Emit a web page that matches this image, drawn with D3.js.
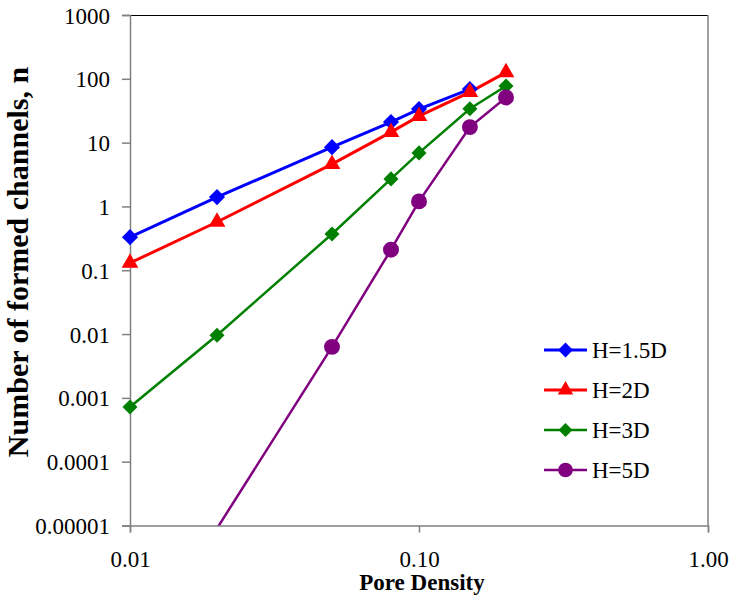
<!DOCTYPE html>
<html>
<head>
<meta charset="utf-8">
<script src="https://cdn.jsdelivr.net/npm/d3@7"></script>
<style>
  body { margin: 0; background: #fff; }
</style>
</head>
<body>
<svg id="chart" width="736" height="603"></svg>
<script>
const poreDensity = [0.01, 0.02, 0.05, 0.08, 0.10, 0.15, 0.20];

// values per series, null where there is no point
const h15 = [0.33, 1.4, 8.5, 21, 33.5, 69, null];
const h2 = [0.13, 0.57, 4.6, 14.6, 26, 62, 126];
const h3 = [0.00072, 0.0096, 0.37, 2.7, 6.9, 34, 77];
const h5 = [null, 0.000009, 0.0063, 0.21, 1.2, 17.5, 51];

const seriesNames = ['H=1.5D', 'H=2D', 'H=3D', 'H=5D'];
const seriesColors = ['#0000ff', '#ff0000', '#008000', '#800080'];
const seriesSymbols = ['diamond', 'triangle', 'diamond', 'circle'];

const yTicks = [1000, 100, 10, 1, 0.1, 0.01, 0.001, 0.0001, 0.00001];
const yTickLabels = ['1000', '100', '10', '1', '0.1', '0.01', '0.001', '0.0001', '0.00001'];
const xTicks = [0.01, 0.1, 1];
const xTickLabels = ['0.01', '0.10', '1.00'];

const serif = '"Liberation Serif", "Times New Roman", "DejaVu Serif", serif';

const svg = d3.select('#chart');
const plotLeft = 130, plotRight = 708, plotTop = 15, plotBottom = 525.5;

const x = d3.scaleLog().domain([0.01, 1]).range([plotLeft, plotRight]);
const y = d3.scaleLog().domain([0.00001, 1000]).range([plotBottom, plotTop]);

// plot frame
svg.append('line')
  .attr('x1', plotLeft).attr('x2', plotRight).attr('y1', plotTop + 0.5).attr('y2', plotTop + 0.5)
  .attr('stroke', '#000').attr('stroke-width', 1);
svg.append('line')
  .attr('x1', plotRight).attr('x2', plotRight).attr('y1', plotTop).attr('y2', plotBottom)
  .attr('stroke', '#808080').attr('stroke-width', 1.5);

// x axis
const xAxis = d3.axisBottom(x)
  .tickValues(xTicks)
  .tickSize(7)
  .tickFormat((d, i) => xTickLabels[i]);
const gx = svg.append('g')
  .attr('transform', `translate(0,${plotBottom})`)
  .attr('font-family', serif)
  .call(xAxis);
gx.select('.domain').attr('stroke', '#808080').attr('stroke-width', 1.5);
gx.selectAll('.tick line').attr('stroke', '#808080').attr('stroke-width', 1.5);
gx.selectAll('.tick text')
  .attr('y', 41.5).attr('dy', 0)
  .attr('fill', '#000')
  .style('font-size', '23px')
  .style('font-family', serif);

// y axis
const yAxis = d3.axisLeft(y)
  .tickValues(yTicks)
  .tickSize(8)
  .tickFormat((d, i) => yTickLabels[i]);
const gy = svg.append('g')
  .attr('transform', `translate(${plotLeft},0)`)
  .attr('font-family', serif)
  .call(yAxis);
gy.select('.domain').attr('stroke', '#808080').attr('stroke-width', 1.5);
gy.selectAll('.tick line').attr('stroke', '#808080').attr('stroke-width', 1.5);
gy.selectAll('.tick text')
  .attr('x', -20).attr('dy', '0.35em')
  .attr('fill', '#000')
  .style('font-size', '23px')
  .style('font-family', serif);

// axis titles
svg.append('text')
  .attr('x', 422)
  .attr('y', 590)
  .attr('text-anchor', 'middle')
  .style('font-family', serif)
  .style('font-size', '23px')
  .style('font-weight', 'bold')
  .text('Pore Density');

svg.append('text')
  .attr('transform', 'translate(28,262) rotate(-90)')
  .attr('text-anchor', 'middle')
  .style('font-family', serif)
  .style('font-size', '30px')
  .style('font-weight', 'bold')
  .text('Number of formed channels, n');

// clip for lines
svg.append('clipPath').attr('id', 'plotClip')
  .append('rect')
  .attr('x', plotLeft).attr('y', plotTop)
  .attr('width', plotRight - plotLeft).attr('height', plotBottom - plotTop);

const allSeries = [h15, h2, h3, h5];

function symbolFor(kind, size) {
  const type = kind === 'diamond' ? d3.symbolDiamond2
    : kind === 'triangle' ? d3.symbolTriangle2
    : d3.symbolCircle;
  return d3.symbol().type(type).size(size)();
}
const markerSizes = [165, 200, 145, 200];
const lineWidths = [3, 3, 2.5, 2.5];

allSeries.forEach((vals, s) => {
  const pts = poreDensity.map((p, i) => ({ p: p, v: vals[i] }))
    .filter(d => d.v !== null);

  const line = d3.line()
    .x(d => x(d.p))
    .y(d => y(d.v));

  svg.append('path')
    .datum(pts)
    .attr('clip-path', 'url(#plotClip)')
    .attr('d', line)
    .attr('fill', 'none')
    .attr('stroke', seriesColors[s])
    .attr('stroke-width', lineWidths[s]);
});

allSeries.forEach((vals, s) => {
  const pts = poreDensity.map((p, i) => ({ p: p, v: vals[i] }))
    .filter(d => d.v !== null && d.v >= 0.00001);

  svg.selectAll(null)
    .data(pts)
    .enter()
    .append('path')
    .attr('d', symbolFor(seriesSymbols[s], markerSizes[s]))
    .attr('transform', d => `translate(${x(d.p)},${y(d.v)})`)
    .attr('fill', seriesColors[s]);
});

// legend
const legendX = 544, legendY = [350, 390, 430, 470];
seriesNames.forEach((name, s) => {
  const g = svg.append('g').attr('transform', `translate(${legendX},${legendY[s]})`);
  g.append('line')
    .attr('x1', 0).attr('x2', 43).attr('y1', 0).attr('y2', 0)
    .attr('stroke', seriesColors[s])
    .attr('stroke-width', lineWidths[s]);
  g.append('path')
    .attr('d', symbolFor(seriesSymbols[s], markerSizes[s] * 0.85))
    .attr('transform', 'translate(21.5,0)')
    .attr('fill', seriesColors[s]);
  g.append('text')
    .attr('x', 48)
    .attr('dy', '0.35em')
    .attr('fill', '#000')
    .style('font-family', serif)
    .style('font-size', '23px')
    .text(name);
});
</script>
</body>
</html>
